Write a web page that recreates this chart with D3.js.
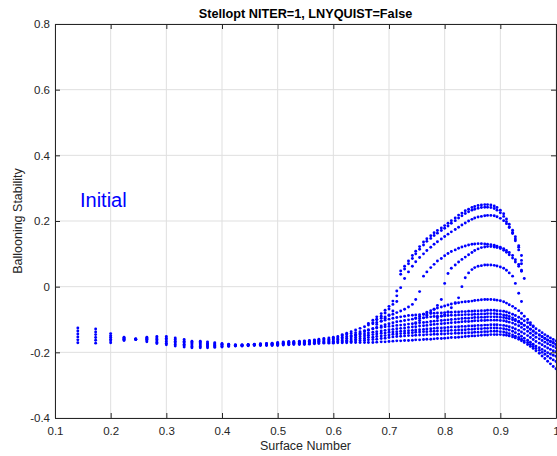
<!DOCTYPE html>
<html>
<head>
<meta charset="utf-8">
<script src="https://cdn.jsdelivr.net/npm/d3@7"></script>
<style>
  body { margin: 0; background: #fff; }
  svg { display: block; }
  text { font-family: "Liberation Sans", Arial, Helvetica, sans-serif; }
</style>
</head>
<body>
<div id="chart"></div>
<script>
// surface number (x) for surfaces k = 2..100
var surfaceNumber = [
  0.141, 0.173, 0.2, 0.224, 0.245, 0.265, 0.283, 0.3,
  0.316, 0.332, 0.346, 0.361, 0.374, 0.387, 0.4, 0.412, 0.424, 0.436,
  0.447, 0.458, 0.469, 0.48, 0.49, 0.5, 0.51, 0.52, 0.529, 0.539,
  0.548, 0.557, 0.566, 0.574, 0.583, 0.592, 0.6, 0.608, 0.616, 0.624,
  0.632, 0.64, 0.648, 0.656, 0.663, 0.671, 0.678, 0.686, 0.693, 0.7,
  0.707, 0.714, 0.721, 0.728, 0.735, 0.742, 0.748, 0.755, 0.762, 0.768,
  0.775, 0.781, 0.787, 0.794, 0.8, 0.806, 0.812, 0.819, 0.825, 0.831,
  0.837, 0.843, 0.849, 0.854, 0.86, 0.866, 0.872, 0.877, 0.883, 0.889,
  0.894, 0.9, 0.906, 0.911, 0.916, 0.922, 0.927, 0.933, 0.938, 0.943,
  0.949, 0.954, 0.959, 0.964, 0.97, 0.975, 0.98, 0.985, 0.99, 0.995,
  1.0
];

// ballooning stability x1000, one value per surface
// lower band, all surfaces (k = 2..100)
var band1 = [
  -126, -129, -143, -154, -159, -154, -152, -152,
  -156, -161, -166, -166, -168, -171, -173, -175, -177, -177,
  -176, -175, -174, -173, -172, -170, -168, -167, -167, -166,
  -165, -164, -162, -160, -158, -156, -154, -152, -149, -146,
  -143, -140, -137, -134, -131, -128, -126, -124, -122, -121,
  -120, -118, -117, -116, -114, -113, -112, -110, -109, -108,
  -106, -105, -104, -103, -102, -101, -100, -99, -98, -97,
  -96, -96, -95, -94, -94, -93, -93, -92, -92, -92,
  -92, -93, -94, -96, -98, -101, -104, -108, -113, -118,
  -124, -130, -136, -142, -147, -152, -157, -162, -166, -170,
  -175
];
var band2 = [
  -135, -138, -149, -156, -159, -157, -156, -157,
  -161, -166, -170, -170, -172, -174, -175, -176, -178, -178,
  -177, -176, -175, -174, -173, -172, -170, -169, -169, -168,
  -167, -166, -164, -163, -161, -160, -158, -156, -154, -152,
  -150, -148, -146, -144, -141, -139, -137, -135, -133, -131,
  -130, -128, -127, -126, -124, -123, -122, -120, -119, -118,
  -116, -115, -114, -113, -112, -111, -110, -109, -108, -107,
  -106, -106, -105, -104, -104, -103, -103, -102, -102, -102,
  -102, -103, -104, -106, -108, -111, -115, -119, -124, -130,
  -136, -142, -148, -154, -159, -164, -169, -174, -178, -182,
  -186
];
var band3 = [
  -144, -146, -154, -158, -160, -160, -160, -162,
  -166, -170, -174, -174, -175, -177, -177, -178, -179, -179,
  -178, -177, -176, -175, -175, -174, -172, -171, -171, -170,
  -169, -168, -167, -166, -165, -164, -162, -160, -159, -157,
  -156, -154, -152, -150, -148, -146, -144, -142, -141, -139,
  -138, -137, -136, -135, -134, -133, -132, -131, -130, -129,
  -128, -127, -126, -126, -125, -124, -123, -123, -122, -121,
  -121, -120, -120, -119, -118, -118, -117, -117, -116, -116,
  -116, -117, -118, -120, -122, -125, -129, -133, -138, -143,
  -149, -155, -161, -167, -172, -177, -182, -187, -191, -195,
  -198
];
var band4 = [
  -153, -155, -160, -160, -160, -162, -165, -167,
  -171, -175, -178, -178, -179, -179, -180, -179, -179, -179,
  -178, -177, -177, -177, -176, -175, -174, -173, -172, -172,
  -172, -171, -169, -168, -168, -167, -166, -165, -164, -163,
  -162, -160, -158, -157, -155, -154, -152, -150, -149, -147,
  -145, -144, -143, -142, -141, -140, -139, -138, -137, -137,
  -136, -136, -135, -135, -134, -134, -133, -133, -132, -132,
  -131, -130, -130, -129, -128, -128, -127, -127, -126, -126,
  -126, -127, -128, -130, -132, -136, -140, -145, -151, -157,
  -163, -169, -175, -181, -186, -191, -196, -201, -205, -209,
  -212
];
var band5 = [
  -162, -163, -165, -162, -161, -165, -169, -172,
  -176, -179, -182, -182, -182, -182, -182, -181, -180, -180,
  -179, -178, -178, -178, -178, -177, -176, -175, -174, -174,
  -174, -173, -172, -171, -170, -170, -169, -168, -168, -167,
  -166, -165, -164, -163, -162, -161, -160, -158, -157, -155,
  -153, -152, -151, -150, -149, -149, -148, -147, -147, -146,
  -146, -145, -145, -144, -144, -143, -143, -142, -142, -141,
  -141, -140, -140, -139, -139, -138, -137, -137, -136, -136,
  -136, -137, -138, -140, -143, -147, -151, -155, -160, -165,
  -170, -176, -182, -188, -194, -200, -206, -212, -218, -223,
  -228
];
var band6 = [
  -171, -172, -171, -164, -161, -168, -173, -177,
  -181, -184, -186, -186, -186, -185, -184, -182, -181, -181,
  -180, -179, -179, -179, -179, -179, -178, -177, -176, -176,
  -176, -175, -174, -173, -172, -172, -172, -171, -171, -171,
  -170, -170, -170, -170, -170, -170, -169, -168, -168, -167,
  -166, -165, -165, -164, -164, -163, -162, -162, -161, -160,
  -160, -159, -158, -158, -157, -156, -155, -155, -154, -153,
  -152, -151, -150, -150, -149, -148, -147, -147, -146, -146,
  -146, -146, -147, -148, -150, -153, -156, -160, -165, -170,
  -176, -182, -188, -195, -203, -211, -219, -227, -235, -243,
  -250
];

// rows leaving the band (first surface given separately)
var rise1Start = 38;
var rise1 = [
  -146, -142,
  -137, -132, -127, -122, -117, -113, -109, -105, -102, -99,
  -96, -94, -92, -90, -88, -87, -86, -85, -84, -83,
  -82, -81, -80, -80, -79, -78, -78, -77, -77, -76,
  -76, -75, -75, -74, -74, -73, -73, -72, -72, -72,
  -73, -74, -75, -77, -80, -84, -88, -93, -98, -104,
  -110, -116, -122, -128, -134, -140, -146, -151, -156, -161,
  -165
];
var rise2Start = 40;
var rise2 = [
  -150, -146, -142, -137, -133, -128, -124, -120, -116, -113,
  -110, -107, -105, -103, -101, -99, -97, -96, -95, -93,
  -92, -91, -90, -89, -89, -88, -87, -87, -86, -86,
  -85, -85, -85, -84, -84, -83, -83, -82, -82, -82,
  -83, -84, -86, -88, -91, -95, -100, -105, -111, -117,
  -123, -129, -135, -141, -147, -153, -158, -163, -168, -172,
  -176
];

// upper arcs
var arcA1Start = 44;
var arcA1 = [
  -112, -102, -92, -82, -72, -60,
  -44, -13, 48, 62, 78, 95, 108, 122, 136, 146,
  155, 164, 171, 179, 186, 193, 201, 209, 218, 224,
  231, 236, 241, 244, 247, 249, 250, 250, 249, 246,
  241, 233, 222, 206, 190, 172, 152, 125, 95
];
var arcA2Start = 45;
var arcA2 = [
  -110, -100, -90, -80, -68,
  -54, -28, 38, 54, 70, 86, 100, 114, 127, 138,
  147, 156, 163, 171, 178, 185, 193, 201, 209, 216,
  223, 228, 233, 236, 239, 241, 242, 242, 241, 238,
  233, 225, 214, 198, 182, 162, 140, 112, 80
];
var arcBStart = 46;
var arcB = [
  -115, -105, -96, -86,
  -74, -45, -3, 25, 45, 62, 76, 89, 100, 110,
  120, 129, 137, 145, 153, 160, 167, 174, 181, 188,
  194, 200, 205, 209, 212, 214, 216, 217, 217, 216,
  213, 208, 201, 192, 180, 165, 145, 120, 70
];
var arcCStart = 46;
var arcC = [
  -100, -96, -92, -88,
  -84, -79, -74, -69, -62, -54, -39, -15, 32, 45,
  58, 68, 78, 86, 94, 101, 107, 112, 117, 121,
  124, 127, 129, 130, 131, 131, 130, 129, 128, 126,
  123, 120, 116, 110, 104, 95, 82, 68, 50
];
var arcDStart = 56;
var arcD = [
  -110, -103, -95, -87,
  -79, -69, -57, -39, 10, 40, 56, 66, 75, 83,
  90, 97, 104, 110, 115, 119, 121, 122, 122, 121,
  119, 116, 111, 105, 97, 87, 75, 62, 47, 25
];
var arcEStart = 62;
var arcE = [
  -95, -90, -85, -77, -64, -49, -34, 0,
  27, 42, 52, 58, 62, 64, 66, 66, 66, 65,
  63, 60, 56, 50, 42, 32, 10, -20, -45
];
var arcFStart = 56;
var arcF = [
  -95, -90, -84, -78,
  -73, -69, -65, -62, -59, -56, -53, -51, -49, -47,
  -46, -45, -44, -42, -41, -40, -39, -39, -39, -40,
  -41, -43, -46, -50, -55, -60, -66, -73, -81, -90,
  -100, -110, -120
];

var xTicks = [0.1, 0.2, 0.3, 0.4, 0.5, 0.6, 0.7, 0.8, 0.9, 1];
var yTicks = [-0.4, -0.2, 0, 0.2, 0.4, 0.6, 0.8];

var W = 557, H = 456;
var margin = {top: 24, right: 1, bottom: 38, left: 55},
    width = W - margin.left - margin.right,
    height = H - margin.top - margin.bottom;

var svg = d3.select("#chart").append("svg")
    .attr("width", W)
    .attr("height", H);

svg.append("rect").attr("width", W).attr("height", H).attr("fill", "#fff");

var g = svg.append("g")
    .attr("transform", "translate(" + margin.left + "," + margin.top + ")");

var x = d3.scaleLinear().domain([0.1, 1]).range([0, width]);
var y = d3.scaleLinear().domain([-0.4, 0.8]).range([height, 0]);

// tick labels like 0.1 ... 1, -0.4 ... 0.8
var fmt = function(d) { return String(+d.toFixed(1)); };

// grid
g.append("g").selectAll("line").data(xTicks).enter().append("line")
    .attr("x1", function(d) { return x(d); }).attr("x2", function(d) { return x(d); })
    .attr("y1", 0).attr("y2", height)
    .attr("stroke", "#dfdfdf").attr("stroke-width", 1);
g.append("g").selectAll("line").data(yTicks).enter().append("line")
    .attr("y1", function(d) { return y(d); }).attr("y2", function(d) { return y(d); })
    .attr("x1", 0).attr("x2", width)
    .attr("stroke", "#dfdfdf").attr("stroke-width", 1);

// collect points
var series = [
  [2, band1], [2, band2], [2, band3], [2, band4], [2, band5], [2, band6],
  [rise1Start, rise1], [rise2Start, rise2],
  [arcA1Start, arcA1], [arcA2Start, arcA2], [arcBStart, arcB], [arcCStart, arcC],
  [arcDStart, arcD], [arcEStart, arcE], [arcFStart, arcF]
];
var points = [];
series.forEach(function(sr) {
  sr[1].forEach(function(v, i) {
    var s = surfaceNumber[sr[0] + i - 2];
    if (s !== undefined) points.push({s: s, v: v / 1000});
  });
});

g.append("g").selectAll("circle").data(points).enter().append("circle")
    .attr("cx", function(d) { return x(d.s); })
    .attr("cy", function(d) { return y(d.v); })
    .attr("r", 1.45)
    .attr("fill", "#0000ff");

// axes (MATLAB box style, ticks inward)
var axisColor = "#262626";
function styleAxis(sel) {
  sel.selectAll(".domain").attr("stroke", axisColor).attr("stroke-width", 1);
  sel.selectAll(".tick line").attr("stroke", axisColor);
  sel.selectAll(".tick text").attr("fill", axisColor)
     .style("font-size", "11.5px")
     .style("font-family", "'Liberation Sans', Arial, sans-serif");
}

g.append("g").attr("transform", "translate(0," + height + ")")
  .call(d3.axisBottom(x).tickValues(xTicks).tickFormat(fmt)
        .tickSizeInner(-5).tickSizeOuter(0).tickPadding(9))
  .call(styleAxis);
g.append("g")
  .call(d3.axisLeft(y).tickValues(yTicks).tickFormat(fmt)
        .tickSizeInner(-5).tickSizeOuter(0).tickPadding(5))
  .call(styleAxis);
g.append("g")
  .call(d3.axisTop(x).tickValues(xTicks).tickFormat("")
        .tickSizeInner(-5).tickSizeOuter(0))
  .call(styleAxis);
g.append("g").attr("transform", "translate(" + width + ",0)")
  .call(d3.axisRight(y).tickValues(yTicks).tickFormat("")
        .tickSizeInner(-5).tickSizeOuter(0))
  .call(styleAxis);

// title and labels
svg.append("text")
    .attr("x", margin.left + width / 2).attr("y", 18)
    .attr("text-anchor", "middle")
    .style("font-size", "12.7px").style("font-weight", "bold")
    .attr("fill", "#000")
    .text("Stellopt NITER=1, LNYQUIST=False");

svg.append("text")
    .attr("x", margin.left + width / 2).attr("y", 450)
    .attr("text-anchor", "middle")
    .style("font-size", "12.5px")
    .attr("fill", axisColor)
    .text("Surface Number");

svg.append("text")
    .attr("transform", "translate(22," + (margin.top + height / 2) + ") rotate(-90)")
    .attr("text-anchor", "middle")
    .style("font-size", "12.5px")
    .attr("fill", axisColor)
    .text("Ballooning Stability");

svg.append("text")
    .attr("x", 80).attr("y", 207)
    .style("font-size", "20px")
    .attr("fill", "#0000ff")
    .text("Initial");
</script>
</body>
</html>
